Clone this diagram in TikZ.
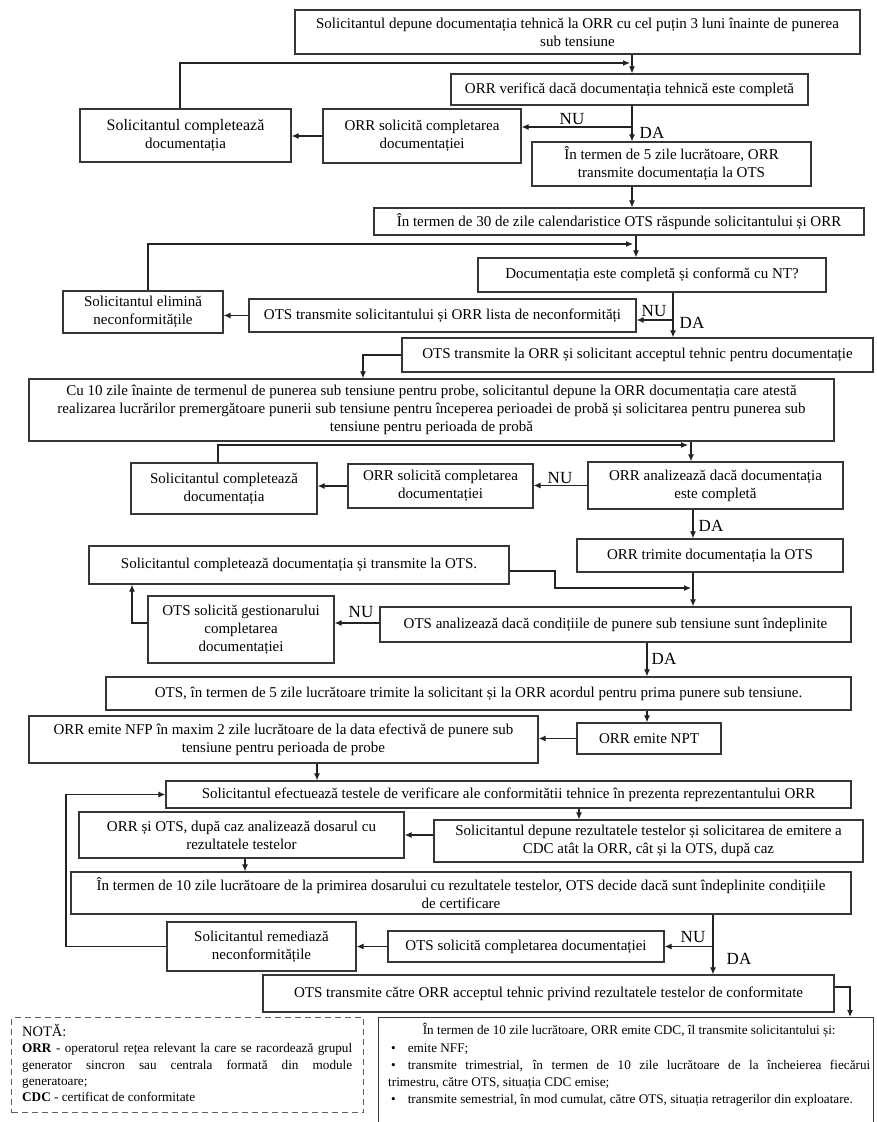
\documentclass[tikz,border=0pt]{standalone}
\usepackage{fontspec}
\setmainfont{Liberation Serif}
\usetikzlibrary{arrows.meta,calc}
\definecolor{bordc}{RGB}{55,55,55}
\definecolor{linec}{RGB}{35,35,35}
\tikzset{
  box/.style={draw=bordc, line width=1.3pt, inner sep=0pt, align=center, font=\fontsize{15}{18}\selectfont, text=black},
  arr/.style={draw=linec, line width=1.1pt, -{Latex[length=7pt,width=6pt]}},
  lbl/.style={font=\fontsize{17}{17}\selectfont, inner sep=0pt, text=black},
  notebox/.style={draw=bordc!80, line width=1.2pt, dash pattern=on 6pt off 4pt, inner sep=0pt, anchor=north west},
  finalbox/.style={draw=bordc, line width=1.3pt, inner sep=0pt, anchor=north west},
  para/.style={anchor=north west, inner sep=0pt, text width=#1, align=justify, font=\fontsize{13.2}{16.3}\selectfont},
}
\newcommand\fcbox[6]{%
  \pgfmathsetmacro\fcx{(#2+#4)/2}\pgfmathsetmacro\fcy{(#3+#5)/2}%
  \pgfmathsetmacro\fcw{#4-#2}\pgfmathsetmacro\fch{#5-#3}%
  \node[box, minimum width=\fcw pt, minimum height=\fch pt] (#1) at (\fcx,\fcy) {#6};}
\begin{document}
\begin{tikzpicture}[x=1pt,y=-1pt]
\useasboundingbox (0,0) rectangle (877,1122);
\fill[white] (0,0) rectangle (877,1122);

% column coordinates
\foreach \xx in {66,132,148,180,218,245,317,363,579,632,636,647,673,691,693,713,850}
  {\coordinate (x\xx) at (\xx,0);}

\fcbox{b1}{295}{10}{860}{54}{Solicitantul depune documentația tehnică la ORR cu cel puțin 3 luni înainte de punerea\\sub tensiune}
\fcbox{b2}{451}{74}{808}{105}{ORR verifică dacă documentația tehnică este completă}
\fcbox{b3}{323}{109}{521}{163}{ORR solicită completarea\\documentației}
\fcbox{b4}{80}{109}{291}{162}{\fontsize{16}{20}\selectfont Solicitantul completează\\documentația}
\fcbox{b5}{532}{142}{811}{186}{În termen de 5 zile lucrătoare, ORR\\transmite documentația la OTS}
\fcbox{b6}{374}{208}{864}{235}{În termen de 30 de zile calendaristice OTS răspunde solicitantului și ORR}
\fcbox{b7}{478}{258}{826}{292}{Documentația este completă și conformă cu NT?}
\fcbox{b8}{63}{291}{223}{333}{Solicitantul elimină\\neconformitățile}
\fcbox{b9}{249}{299}{636}{332}{OTS transmite solicitantului și ORR lista de neconformități}
\fcbox{b10}{402}{338}{873}{372}{OTS transmite la ORR și solicitant acceptul tehnic pentru documentație}
\fcbox{b11}{29}{379}{834}{441}{Cu 10 zile înainte de termenul de punerea sub tensiune pentru probe, solicitantul depune la ORR documentația care atestă\\realizarea lucrărilor premergătoare punerii sub tensiune pentru începerea perioadei de probă și solicitarea pentru punerea sub\\tensiune pentru perioada de probă}
\fcbox{b12}{588}{462}{843}{509}{ORR analizează dacă documentația\\este completă}
\fcbox{b13}{348}{464}{533}{508}{ORR solicită completarea\\documentației}
\fcbox{b14}{131}{463}{317}{514}{Solicitantul completează\\documentația}
\fcbox{b15}{577}{539}{843}{572}{ORR trimite documentația la OTS}
\fcbox{b16}{89}{546}{509}{584}{Solicitantul completează documentația și transmite la OTS.}
\fcbox{b17}{380}{607}{851}{642}{OTS analizează dacă condițiile de punere sub tensiune sunt îndeplinite}
\fcbox{b18}{148}{596}{334}{663}{OTS solicită gestionarului\\completarea\\documentației}
\fcbox{b19}{106}{677}{851}{710}{OTS, în termen de 5 zile lucrătoare trimite la solicitant și la ORR acordul pentru prima punere sub tensiune.}
\fcbox{b20}{577}{723}{721}{754}{ORR emite NPT}
\fcbox{b21}{29}{716}{538}{763}{ORR emite NFP în maxim 2 zile lucrătoare de la data efectivă de punere sub\\tensiune pentru perioada de probe}
\fcbox{b22}{166}{781}{851}{808}{Solicitantul efectuează testele de verificare ale conformitătii tehnice în prezenta reprezentantului ORR}
\fcbox{b23}{434}{820}{863}{862}{Solicitantul depune rezultatele testelor și solicitarea de emitere a\\CDC atât la ORR, cât și la OTS, după caz}
\fcbox{b24}{79}{812}{404}{858}{ORR și OTS, după caz analizează dosarul cu\\rezultatele testelor}
\fcbox{b25}{71}{872}{851}{914}{În termen de 10 zile lucrătoare de la primirea dosarului cu rezultatele testelor, OTS decide dacă sunt îndeplinite condițiile\\de certificare}
\fcbox{b26}{388}{931}{664}{962}{OTS solicită completarea documentației}
\fcbox{b27}{167}{922}{356}{971}{Solicitantul remediază\\neconformitățile}
\fcbox{b28}{263}{975}{834}{1012}{OTS transmite către ORR acceptul tehnic privind rezultatele testelor de conformitate}

% note and final boxes
\node[notebox, minimum width=352pt, minimum height=95pt] (nota) at (11,1017) {};
\node[para=330pt] (notatext) at (22,1024) {\setlength\parindent{0pt}%
{\fontsize{14.5}{16.3}\selectfont NOTĂ:}\par
\textbf{ORR} - operatorul rețea relevant la care se racordează grupul\linebreak generator sincron sau centrala formată din module\linebreak generatoare;\par
\textbf{CDC} - certificat de conformitate};
\node[finalbox, minimum width=495pt, minimum height=120pt] (b29) at (378,1017) {};
\node[para=482pt] (b29text) at (388,1023) {\setlength\parindent{0pt}\setlength\parskip{1.3pt}%
{\centering În termen de 10 zile lucrătoare, ORR emite CDC, îl transmite solicitantului și:\par}
\hspace*{3pt}\textbullet\hspace{12pt}emite NFF;\par
\hspace*{3pt}\textbullet\hspace{12pt}transmite trimestrial, în termen de 10 zile lucrătoare de la încheierea fiecărui\linebreak trimestru, către OTS, situația CDC emise;\par
\hspace*{3pt}\textbullet\hspace{12pt}transmite semestrial, în mod cumulat, către OTS, situația retragerilor din exploatare.};

% helper coordinates
\coordinate (j1) at (630,63);
\coordinate (j2) at (632,127);
\coordinate (j3) at (633,244);
\coordinate (j4) at (673,320);
\coordinate (j5) at (688,445);
\coordinate (k1) at (555,571);
\coordinate (k2) at (555,588);
\coordinate (k3) at (691,588);
\coordinate (k5) at (0,623);
\coordinate (k6) at (0,987);

% connectors
\draw[arr] (b1.south -| x632) -- (b2.north -| x632);
\draw[arr] (b4.north -| x180) |- (j1);
\draw[arr] (b2.south -| x632) -- (b5.north -| x632);
\draw[arr] (j2) -- (j2 -| b3.east);
\draw[arr] (b3.west) -- (b3.west -| b4.east);
\draw[arr] (b5.south -| x632) -- (b6.north -| x632);
\draw[arr] (b6.south -| x636) -- (b7.north -| x636);
\draw[arr] (b8.north -| x148) |- (j3);
\draw[arr] (b7.south -| x673) -- (b10.north -| x673);
\draw[arr] (j4) -- (j4 -| b9.east);
\draw[arr] (b9.west) -- (b9.west -| b8.east);
\draw[arr] (b10.west) -| (b11.north -| x363);
\draw[arr] (b11.south -| x691) -- (b12.north -| x691);
\draw[arr] (b14.north -| x218) |- (j5);
\draw[arr] (b12.west) -- (b12.west -| b13.east);
\draw[arr] (b13.west) -- (b13.west -| b14.east);
\draw[arr] (b12.south -| x693) -- (b15.north -| x693);
\draw[arr] (b15.south -| x693) -- (b17.north -| x693);
\draw[arr] (b16.east |- k1) -- (k1) -- (k2) -- (k3);
\draw[arr] (b17.west |- k5) -- (b18.east |- k5);
\draw[arr] (b18.west |- k5) -| (b16.south -| x132);
\draw[arr] (b17.south -| x647) -- (b19.north -| x647);
\draw[arr] (b19.south -| x647) -- (b20.north -| x647);
\draw[arr] (b20.west) -- (b20.west -| b21.east);
\draw[arr] (b21.south -| x317) -- (b22.north -| x317);
\draw[arr] (b22.south -| x579) -- (b23.north -| x579);
\draw[arr] (b23.west |- b24.east) -- (b24.east);
\draw[arr] (b24.south -| x245) -- (b25.north -| x245);
\draw[arr] (b25.south -| x713) -- (b28.north -| x713);
\draw[arr] (b26.east -| x713) -- (b26.east);
\draw[arr] (b26.west) -- (b26.west -| b27.east);
\draw[arr] (b27.west) -- (b27.west -| x66) |- (b22.west);
\draw[arr] (b28.east |- k6) -| (b29.north -| x850);

% labels
\node[lbl] (nu1) at (572,119) {NU};
\node[lbl] (da1) at (652,133) {DA};
\node[lbl] (nu2) at (654,311) {NU};
\node[lbl] (da2) at (692,323) {DA};
\node[lbl] (nu3) at (560,478) {NU};
\node[lbl] (da3) at (711,526) {DA};
\node[lbl] (nu4) at (361,612) {NU};
\node[lbl] (da4) at (664,659) {DA};
\node[lbl] (nu5) at (693,937) {NU};
\node[lbl] (da5) at (739,959) {DA};
\end{tikzpicture}
\end{document}
